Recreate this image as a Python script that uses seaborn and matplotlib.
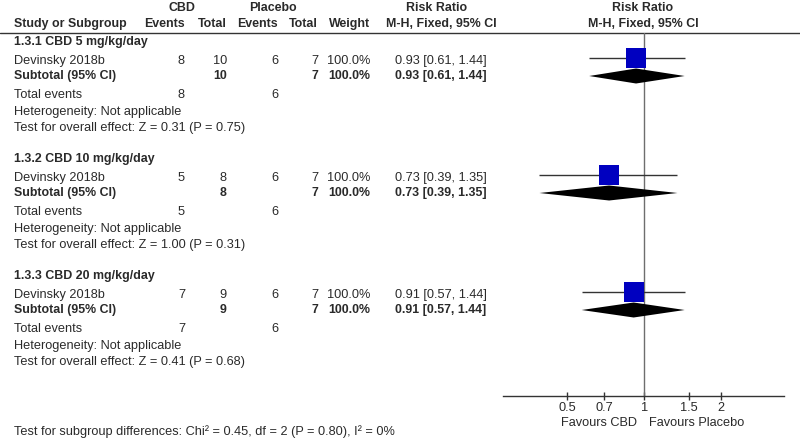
import numpy as np
import pandas as pd
import seaborn as sns
import matplotlib.pyplot as plt

# data
groups = ["1.3.1 CBD 5 mg/kg/day", "1.3.2 CBD 10 mg/kg/day", "1.3.3 CBD 20 mg/kg/day"]
studies = ["Devinsky 2018b", "Devinsky 2018b", "Devinsky 2018b"]
cbd_events = [8, 5, 7]
cbd_total = [10, 8, 9]
placebo_events = [6, 6, 6]
placebo_total = [7, 7, 7]
weights = [100.0, 100.0, 100.0]
rr = [0.93, 0.73, 0.91]
rr_low = [0.61, 0.39, 0.57]
rr_high = [1.44, 1.35, 1.44]
z_values = [0.31, 1.00, 0.41]
p_values = [0.75, 0.31, 0.68]
ticks = [0.5, 0.7, 1, 1.5, 2]
tick_labels = ["0.5", "0.7", "1", "1.5", "2"]

sns.set_theme(style="white")
plt.rcParams["font.family"] = ["Liberation Sans", "DejaVu Sans"]
fs = 9.2
fs_bold = 8.9
txt_col = "#2a2a2a"

fig = plt.figure(figsize=(8, 4.41), dpi=100)

# overlay axes in pixel coordinates for the table text
tab = fig.add_axes([0, 0, 1, 1])
tab.set_xlim(0, 800)
tab.set_ylim(441, 0)
tab.axis("off")

def t(x, y, s, ha="left", bold=False):
    tab.text(x, y, s, ha=ha, va="center", fontsize=fs_bold if bold else fs,
             color=txt_col, fontweight="bold" if bold else "normal")

# header
t(182, 8, "CBD", ha="center", bold=True)
t(273, 8, "Placebo", ha="center", bold=True)
t(437, 8, "Risk Ratio", ha="center", bold=True)
t(643, 8, "Risk Ratio", ha="center", bold=True)
t(14, 24, "Study or Subgroup", bold=True)
t(185, 24, "Events", ha="right", bold=True)
t(227, 24, "Total", ha="right", bold=True)
t(278, 24, "Events", ha="right", bold=True)
t(318, 24, "Total", ha="right", bold=True)
t(370, 24, "Weight", ha="right", bold=True)
t(441, 24, "M-H, Fixed, 95% CI", ha="center", bold=True)
t(643, 24, "M-H, Fixed, 95% CI", ha="center", bold=True)
tab.plot([0, 800], [33, 33], color="#333333", lw=1)

base = [42, 159, 276]
offs = [0, 19, 34, 53, 70, 86]
for i, g in enumerate(groups):
    b = base[i]
    ci = f"{rr[i]:.2f} [{rr_low[i]:.2f}, {rr_high[i]:.2f}]"
    t(14, b + offs[0], g, bold=True)
    y = b + offs[1]
    t(14, y, studies[i])
    t(185, y, str(cbd_events[i]), ha="right")
    t(227, y, str(cbd_total[i]), ha="right")
    t(278, y, str(placebo_events[i]), ha="right")
    t(318, y, str(placebo_total[i]), ha="right")
    t(370, y, f"{weights[i]:.1f}%", ha="right")
    t(441, y, ci, ha="center")
    y = b + offs[2]
    t(14, y, "Subtotal (95% CI)", bold=True)
    t(227, y, str(cbd_total[i]), ha="right", bold=True)
    t(318, y, str(placebo_total[i]), ha="right", bold=True)
    t(370, y, f"{weights[i]:.1f}%", ha="right", bold=True)
    t(441, y, ci, ha="center", bold=True)
    y = b + offs[3]
    t(14, y, "Total events")
    t(185, y, str(cbd_events[i]), ha="right")
    t(278, y, str(placebo_events[i]), ha="right")
    t(14, b + offs[4], "Heterogeneity: Not applicable")
    t(14, b + offs[5], f"Test for overall effect: Z = {z_values[i]:.2f} (P = {p_values[i]:.2f})")

t(14, 432, "Test for subgroup differences: Chi² = 0.45, df = 2 (P = 0.80), I² = 0%")
t(637, 423, "Favours CBD", ha="right")
t(649, 423, "Favours Placebo")

# forest axes, y in the same pixel rows
ax = fig.add_axes([503 / 800, 1 - 396 / 441, (784 - 503) / 800, (396 - 33) / 441])
ax.set_xscale("log")
ax.set_xlim(0.281, 3.52)
ax.set_ylim(396, 33)
ax.patch.set_alpha(0)

study_y = [base[i] + offs[1] - 3 for i in range(3)]
sub_y = [base[i] + offs[2] for i in range(3)]
df = pd.DataFrame({"rr": rr, "lo": rr_low, "hi": rr_high, "y": study_y, "sy": sub_y})

ax.axvline(1, color="#6e6e6e", lw=1, zorder=1)
ax.hlines(df["y"], df["lo"], df["hi"], color="#333333", lw=1, zorder=2)
sns.scatterplot(data=df, x="rr", y="y", marker="s", s=190, color="#0000c0",
                linewidth=0, ax=ax, zorder=3, legend=False)
for _, r in df.iterrows():
    ax.fill([r["lo"], r["rr"], r["hi"], r["rr"]],
            [r["sy"], r["sy"] - 7.5, r["sy"], r["sy"] + 7.5], color="black", lw=0, zorder=4)

for s in ["top", "left", "right"]:
    ax.spines[s].set_visible(False)
ax.spines["bottom"].set_color("#333333")
ax.spines["bottom"].set_linewidth(1)
ax.set_yticks([])
ax.set_xticks(ticks)
ax.set_xticklabels(tick_labels)
ax.xaxis.set_minor_locator(plt.NullLocator())
ax.tick_params(axis="x", direction="inout", length=6, width=1, color="#333333",
               labelsize=fs, labelcolor=txt_col, pad=1, bottom=True)
ax.set_xlabel("")
ax.set_ylabel("")

fig.savefig("out.png", dpi=100)
